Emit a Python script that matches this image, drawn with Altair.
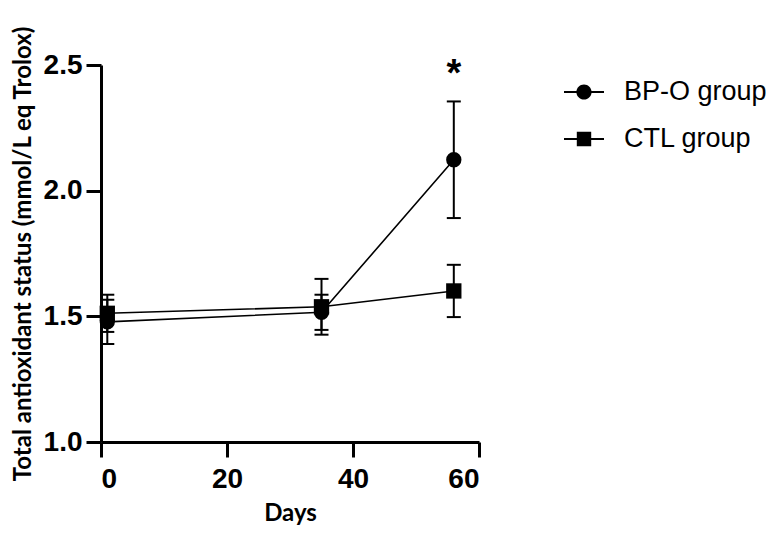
import altair as alt
import pandas as pd

# ---- data ----
groups = ["BP-O group", "CTL group"]
days = [1, 35, 56]
bpo_mean = [1.478, 1.516, 2.123]
bpo_err = [0.088, 0.070, 0.232]
ctl_mean = [1.512, 1.538, 1.601]
ctl_err = [0.074, 0.111, 0.104]

x_ticks = [0, 20, 40, 60]
y_ticks = [1.0, 1.5, 2.0, 2.5]

sig_day = [56]
sig_y = [2.5]
sig_text = ["*"]

rows = []
for g, means, errs in [(groups[0], bpo_mean, bpo_err), (groups[1], ctl_mean, ctl_err)]:
    for d, m, e in zip(days, means, errs):
        rows.append({"group": g, "day": d, "mean": m, "lo": m - e, "hi": m + e})
df = pd.DataFrame(rows)
sig = pd.DataFrame({"day": sig_day, "y": sig_y, "t": sig_text})

BLACK = "#000000"
LABEL_FONT = "Liberation Sans"
TITLE_FONT = "Lato"

x_enc = alt.X(
    "day:Q",
    scale=alt.Scale(domain=[0, 60], nice=False, zero=False),
    axis=alt.Axis(values=x_ticks, title="Days", grid=False, format="d"),
)
y_scale = alt.Scale(domain=[1.0, 2.5], nice=False, zero=False)
y_axis = alt.Axis(values=y_ticks, format=".1f", grid=False,
                  title="Total antioxidant status (mmol/L eq Trolox)")

base = alt.Chart(df)

err_rule = base.mark_rule(color=BLACK, strokeWidth=2).encode(
    x=x_enc,
    y=alt.Y("lo:Q", scale=y_scale, axis=y_axis),
    y2="hi:Q",
)
cap_hi = base.mark_rule(color=BLACK, strokeWidth=2, xOffset=-7, x2Offset=7).encode(
    x="day:Q", x2="day:Q", y="hi:Q"
)
cap_lo = base.mark_rule(color=BLACK, strokeWidth=2, xOffset=-7, x2Offset=7).encode(
    x="day:Q", x2="day:Q", y="lo:Q"
)

lines = base.mark_line(color=BLACK, strokeWidth=1.6).encode(
    x="day:Q", y="mean:Q", detail="group:N"
)

points = base.mark_point(filled=True, color=BLACK, opacity=1, size=235).encode(
    x="day:Q",
    y="mean:Q",
    shape=alt.Shape("group:N",
                    scale=alt.Scale(domain=groups, range=["circle", "square"]),
                    legend=None),
)

circle_path = ("M-1,-0.05H1V0.05H-1Z "
               "M0.38,0A0.38,0.38,0,1,1,-0.38,0A0.38,0.38,0,1,1,0.38,0Z")
square_path = ("M-1,-0.05H1V0.05H-1Z "
               "M-0.36,-0.36H0.36V0.36H-0.36Z")

legend_layer = base.mark_point(filled=True, color=BLACK, opacity=0, size=1600).encode(
    x="day:Q",
    y="mean:Q",
    shape=alt.Shape(
        "group:N",
        scale=alt.Scale(domain=groups, range=[circle_path, square_path]),
        legend=alt.Legend(
            title=None,
            orient="none",
            legendX=463,
            legendY=7,
            symbolSize=1600,
            symbolFillColor=BLACK,
            symbolStrokeWidth=0,
            symbolOpacity=1,
            labelFont=LABEL_FONT,
            labelFontSize=27,
            labelColor=BLACK,
            labelOffset=20,
            rowPadding=14,
            labelLimit=300,
        ),
    ),
)

star = alt.Chart(sig).mark_text(
    font=LABEL_FONT, fontSize=38, fontWeight="bold", color=BLACK,
    baseline="alphabetic", align="center", dy=21,
).encode(x="day:Q", y="y:Q", text="t:N")

chart = (
    alt.layer(err_rule, cap_hi, cap_lo, lines, points, legend_layer, star)
    .resolve_scale(shape="independent")
    .properties(
        width=378,
        height=377,
        autosize="none",
        padding={"left": 93, "top": 57, "right": 290, "bottom": 88},
    )
    .configure_view(stroke=None)
    .configure_axis(
        domainColor=BLACK,
        domainWidth=3,
        tickColor=BLACK,
        tickWidth=3,
        tickSize=15,
        labelFont=LABEL_FONT,
        labelFontSize=28,
        labelFontWeight="bold",
        labelColor=BLACK,
        titleFont=TITLE_FONT,
        titleFontSize=24,
        titleFontWeight="bold",
        titleColor=BLACK,
    )
    .configure_axisX(labelPadding=8, titlePadding=8)
    .configure_axisY(labelPadding=4, titlePadding=8)
)

chart.save("out.html", embed_options={"renderer": "svg", "actions": False})
